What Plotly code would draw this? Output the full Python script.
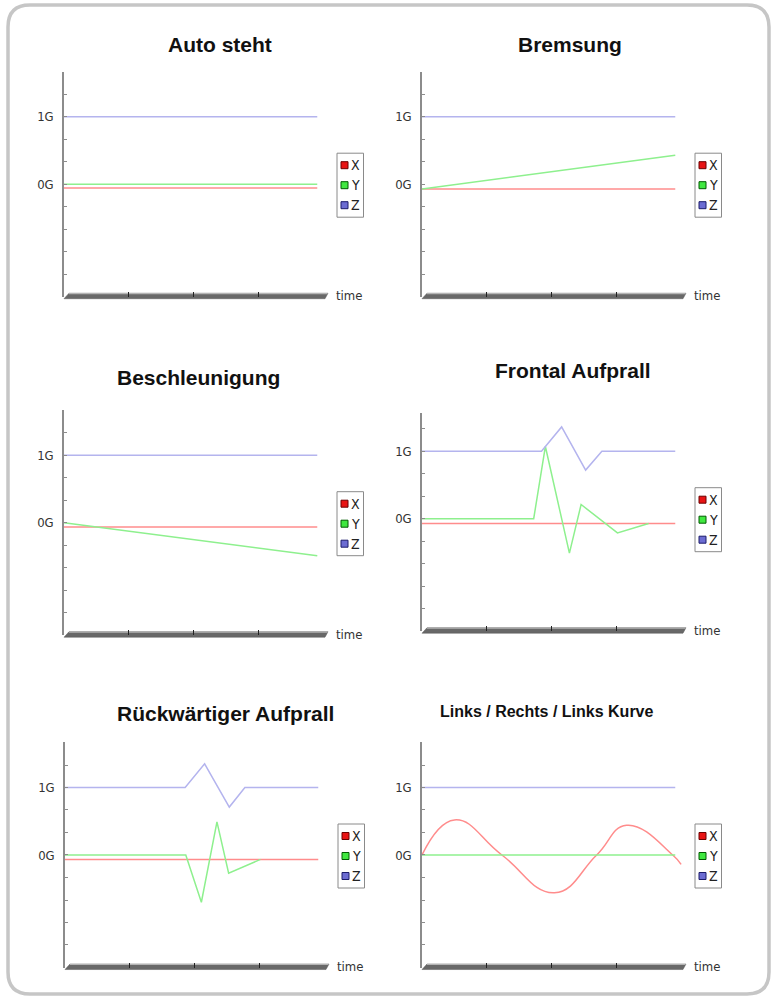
import plotly.graph_objects as go

W, H = 774, 999

# ---------------- data ----------------
titles = ["Auto steht", "Bremsung", "Beschleunigung",
          "Frontal Aufprall", "Rückwärtiger Aufprall", "Links / Rechts / Links Kurve"]
series_names = ["X", "Y", "Z"]
y_tick_vals = [-1.667, -1.333, -1.0, -0.667, -0.333, 0.0, 0.333, 0.667, 1.0, 1.333, 1.667]
y_tick_text = ["", "", "", "", "", "0G", "", "", "1G", "", ""]
x_tick_vals = [10, 20, 30]
x_axis_label = "time"

# Auto steht
p1_t = [0, 39]
p1_x = [-0.055, -0.055]
p1_y = [0.0, 0.0]
p1_z = [1.0, 1.0]

# Bremsung
p2_t = [0, 39]
p2_x = [-0.07, -0.07]
p2_y = [-0.07, 0.43]
p2_z = [1.0, 1.0]

# Beschleunigung
p3_t = [0, 39]
p3_x = [-0.064, -0.064]
p3_y = [0.0, -0.49]
p3_z = [1.0, 1.0]

# Frontal Aufprall
p4_tx = [0, 39]
p4_x = [-0.07, -0.07]
p4_ty = [0, 17.2, 19.0, 22.7, 24.5, 30.1, 34.9]
p4_y = [0.0, 0.0, 1.07, -0.51, 0.21, -0.21, -0.07]
p4_tz = [0, 18.4, 21.5, 25.2, 27.7, 39]
p4_z = [1.0, 1.0, 1.36, 0.72, 1.0, 1.0]

# Rückwärtiger Aufprall
p5_tx = [0, 39]
p5_x = [-0.065, -0.065]
p5_ty = [0, 18.6, 21.0, 23.4, 25.2, 30.1]
p5_y = [0.0, 0.0, -0.70, 0.49, -0.27, -0.065]
p5_tz = [0, 18.5, 21.5, 25.3, 27.7, 39]
p5_z = [1.0, 1.0, 1.35, 0.71, 1.0, 1.0]

# Links / Rechts / Links Kurve (X read at its peaks, troughs and zero crossings)
p6_tx = [0, 5.0, 12.3, 20.4, 26.9, 31.5, 38.6, 39.9]
p6_x = [0.0, 0.52, 0.0, -0.56, 0.0, 0.44, 0.0, -0.14]
p6_ty = [0, 39]
p6_y = [0.0, 0.0]
p6_tz = [0, 39]
p6_z = [1.0, 1.0]

panel_data = [
    (p1_t, p1_x, p1_t, p1_y, p1_t, p1_z, "linear"),
    (p2_t, p2_x, p2_t, p2_y, p2_t, p2_z, "linear"),
    (p3_t, p3_x, p3_t, p3_y, p3_t, p3_z, "linear"),
    (p4_tx, p4_x, p4_ty, p4_y, p4_tz, p4_z, "linear"),
    (p5_tx, p5_x, p5_ty, p5_y, p5_tz, p5_z, "linear"),
    (p6_tx, p6_x, p6_ty, p6_y, p6_tz, p6_z, "spline"),
]

# ---------------- layout geometry (pixels) ----------------
# (x of time 0, y of 0G, top of y range)
geom = [(64, 184.2, 1.667), (422, 184.2, 1.667),
        (64, 522.7, 1.667), (422, 518.7, 1.56),
        (65, 855.0, 1.667), (422, 855.0, 1.667)]
G = 67.5          # pixels per g
XW = 263          # pixel width of x range
X_RANGE = [0, 40.5]
Y_BOTTOM = -1.667
title_pos = [(220, 45), (570, 45), (198, 377), (573, 370), (225, 713), (547, 711)]
title_size = [21, 21, 21, 21, 21, 16]

line_colors = {"X": "#ff8c8c", "Y": "#8ef08e", "Z": "#b4b4ee"}
legend_fill = {"X": "#e81414", "Y": "#40e840", "Z": "#6c6cd2"}
legend_edge = {"X": "#6a0000", "Y": "#005a00", "Z": "#1c1c6a"}

NARROW = "Liberation Sans Narrow, Arial Narrow, DejaVu Sans Condensed, Liberation Sans, sans-serif"
BOLD = "Liberation Sans, Arial, Helvetica, sans-serif"


def px(x):
    return x / W


def py(y):
    return 1 - y / H


fig = go.Figure()
layout = dict(width=W, height=H, margin=dict(l=0, r=0, t=0, b=0),
              paper_bgcolor="white", plot_bgcolor="rgba(0,0,0,0)",
              showlegend=False)
shapes = []
annotations = []

for i, ((tx, xs, ty, ys, tz, zs, shape), (x0, zg, ytop)) in enumerate(zip(panel_data, geom)):
    n = i + 1
    xa = "x" if n == 1 else f"x{n}"
    ya = "y" if n == 1 else f"y{n}"
    for name, tt, vv in (("X", tx, xs), ("Y", ty, ys), ("Z", tz, zs)):
        line = dict(color=line_colors[name], width=1.5, shape=shape)
        if shape == "spline":
            line["smoothing"] = 1.3
        fig.add_trace(go.Scatter(x=tt, y=vv, mode="lines", name=name, line=line,
                                 xaxis=xa, yaxis=ya, showlegend=False,
                                 hoverinfo="skip"))
    top_px = zg - ytop * G
    bot_px = zg - Y_BOTTOM * G
    layout["xaxis" if n == 1 else f"xaxis{n}"] = dict(
        domain=[px(x0), px(x0 + XW)], range=X_RANGE, anchor=ya,
        showline=False, showgrid=False, zeroline=False,
        ticks="inside", tickvals=x_tick_vals, ticklen=5, tickwidth=1,
        tickcolor="#222", showticklabels=False, fixedrange=True)
    layout["yaxis" if n == 1 else f"yaxis{n}"] = dict(
        domain=[py(bot_px), py(top_px)], range=[Y_BOTTOM, ytop], anchor=xa,
        showline=True, linecolor="#8c8c8c", linewidth=1.5, mirror=False,
        showgrid=False, zeroline=False,
        ticks="inside", tickvals=y_tick_vals, ticktext=y_tick_text,
        ticklen=3, tickwidth=1, tickcolor="#8c8c8c", ticklabelstandoff=6,
        tickfont=dict(family=NARROW, size=13, color="#333"), fixedrange=True)

    # 3D-looking time axis bar
    yb = bot_px
    path = (f"M {px(x0)},{py(yb + 2)} L {px(x0 + 5)},{py(yb - 3.5)} "
            f"L {px(x0 + 264)},{py(yb - 3.5)} L {px(x0 + 261)},{py(yb + 2)} Z")
    shapes.append(dict(type="path", xref="paper", yref="paper", path=path,
                       fillcolor="#686868", line=dict(color="#5a5a5a", width=0.5),
                       layer="below"))
    shapes.append(dict(type="line", xref="paper", yref="paper",
                       x0=px(x0 + 5), x1=px(x0 + 263.5), y0=py(yb - 3), y1=py(yb - 3),
                       line=dict(color="#b4b4b4", width=1.2), layer="below"))
    annotations.append(dict(text=x_axis_label, xref="paper", yref="paper",
                            x=px(x0 + 270), y=py(yb - 1), xanchor="left", yanchor="middle",
                            showarrow=False,
                            font=dict(family=NARROW, size=13, color="#333")))

    # legend box
    shapes.append(dict(type="rect", xref="paper", yref="paper",
                       x0=px(x0 + 273), x1=px(x0 + 299.5),
                       y0=py(zg + 33), y1=py(zg - 31),
                       fillcolor="white", line=dict(color="#8a8a8a", width=1)))
    for k, name in enumerate(series_names):
        cy = zg + 1 + (k - 1) * 20
        shapes.append(dict(type="rect", xref="paper", yref="paper",
                           x0=px(x0 + 277), x1=px(x0 + 284),
                           y0=py(cy + 3.5), y1=py(cy - 3.5),
                           fillcolor=legend_fill[name],
                           line=dict(color=legend_edge[name], width=1)))
        annotations.append(dict(text=name, xref="paper", yref="paper",
                                x=px(x0 + 284.5), y=py(cy), xanchor="left", yanchor="middle",
                                showarrow=False,
                                font=dict(family=NARROW, size=14, color="#222")))

    # title
    tx_, ty_ = title_pos[i]
    annotations.append(dict(text=titles[i], xref="paper", yref="paper",
                            x=px(tx_), y=py(ty_), xanchor="center", yanchor="middle",
                            showarrow=False,
                            font=dict(family=BOLD, size=title_size[i], color="#111",
                                      weight="bold")))

# outer rounded frame
L, R, T, B = px(8), px(769), py(5), py(994)
rx, ry = 22 / W, 22 / H
frame = (f"M {L + rx},{T} L {R - rx},{T} Q {R},{T} {R},{T - ry} "
         f"L {R},{B + ry} Q {R},{B} {R - rx},{B} L {L + rx},{B} "
         f"Q {L},{B} {L},{B + ry} L {L},{T - ry} Q {L},{T} {L + rx},{T} Z")
shapes.append(dict(type="path", xref="paper", yref="paper", path=frame,
                   line=dict(color="#c6c6c6", width=3.5), layer="below"))

layout["shapes"] = shapes
layout["annotations"] = annotations
fig.update_layout(**layout)

fig.write_html("out.html", config={"displayModeBar": False},
               post_script="document.body.style.margin='0';document.body.style.overflow='hidden';")
